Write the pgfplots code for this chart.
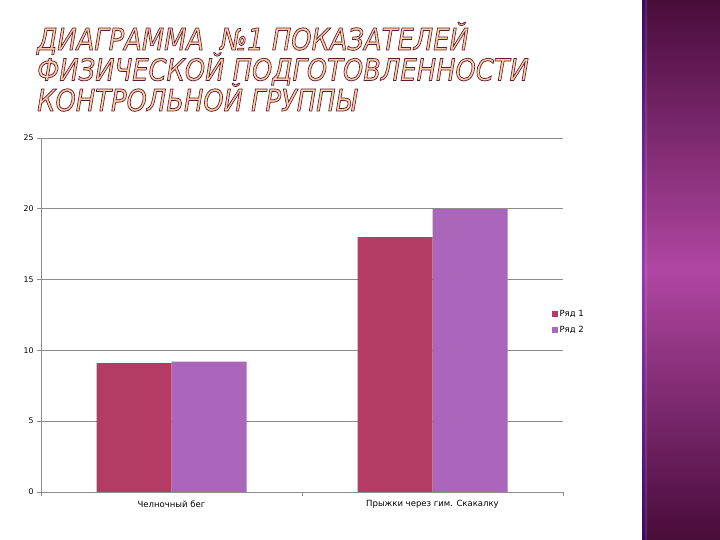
\documentclass[border=0pt]{standalone}
\usepackage{pgfplots}
\pgfplotsset{compat=1.18}
\usepackage{fontspec}
\setmainfont{DejaVu Sans}
\newfontfamily\titlefont{DejaVu Sans}
\definecolor{barred}{RGB}{180,60,100}
\definecolor{barpurple}{RGB}{170,102,186}
\definecolor{panelDark}{RGB}{72,12,58}
\definecolor{panelMid}{RGB}{176,70,162}
\definecolor{gridgray}{RGB}{140,140,140}
\newcommand{\outl}{\special{pdf:literal direct 0.38 0.10 0.20 RG 0.99 0.82 0.64 rg 2 Tr 0.75 w}}
\newcommand{\outloff}{\special{pdf:literal direct 0 Tr}}
\newcommand{\ttl}[1]{\scalebox{0.86}[1]{\titlefont\itshape\fontsize{30}{30}\selectfont\outl #1\outloff}}
\begin{document}
\begin{tikzpicture}[x=1pt,y=1pt]
\fill[white] (0,0) rectangle (720,540);
% right panel
\shade[top color=panelDark, bottom color=panelDark, middle color=panelMid] (642,0) rectangle (720,540);
\shade[top color=panelDark!80!blue, bottom color=panelDark!80!blue, middle color=panelMid!85!blue] (642,0) rectangle (645,540);
\shade[top color=panelDark!90!white, bottom color=panelDark!90!white, middle color=panelMid!90!white] (645,0) rectangle (647,540);
% title
\node[anchor=base west, inner sep=0pt] at (37,490) {\ttl{ДИАГРАММА \ №1 ПОКАЗАТЕЛЕЙ}};
\node[anchor=base west, inner sep=0pt] at (37,459.5) {\ttl{ФИЗИЧЕСКОЙ ПОДГОТОВЛЕННОСТИ}};
\node[anchor=base west, inner sep=0pt] at (37,429) {\ttl{КОНТРОЛЬНОЙ ГРУППЫ}};
\begin{axis}[
  at={(41pt,48pt)}, anchor=south west,
  scale only axis, width=522pt, height=354pt,
  xmin=-0.5, xmax=1.5, ymin=0, ymax=25,
  ytick={0,5,...,25},
  xtick={0,1},
  xticklabels={Челночный бег, Прыжки через гим. Скакалку},
  major x tick style={draw=none},
  extra x ticks={-0.5,0.5,1.5},
  extra x tick labels={},
  extra x tick style={major x tick style={draw=gridgray}},
  axis x line*=bottom, axis y line*=left,
  axis line style={-, draw=gridgray, line width=0.8pt},
  ymajorgrids, grid style={draw=gridgray, line width=0.8pt},
  tick align=outside, major tick length=4pt,
  tick style={draw=gridgray, line width=0.8pt},
  /pgf/number format/assume math mode=true,
  yticklabel style={font=\fontsize{7.8}{9}\selectfont},
  xticklabel style={font=\fontsize{8.5}{10}\selectfont, yshift=-1pt},
  ybar=0pt, bar width=75pt,
  legend style={at={(rel axis cs:0.972,0.48)}, anchor=west, draw=none, fill=none,
    font=\fontsize{8.5}{10}\selectfont, row sep=5pt},
  legend cell align=left,
]
\addplot[fill=barred, draw=none, legend image code/.code={\fill[barred] (0pt,-3pt) rectangle (6pt,3pt);}] coordinates {(0,9.1) (1,18)};
\addplot[fill=barpurple, draw=none, legend image code/.code={\fill[barpurple] (0pt,-3pt) rectangle (6pt,3pt);}] coordinates {(0,9.2) (1,20)};
\legend{Ряд 1, Ряд 2}
\end{axis}
\end{tikzpicture}
\end{document}
